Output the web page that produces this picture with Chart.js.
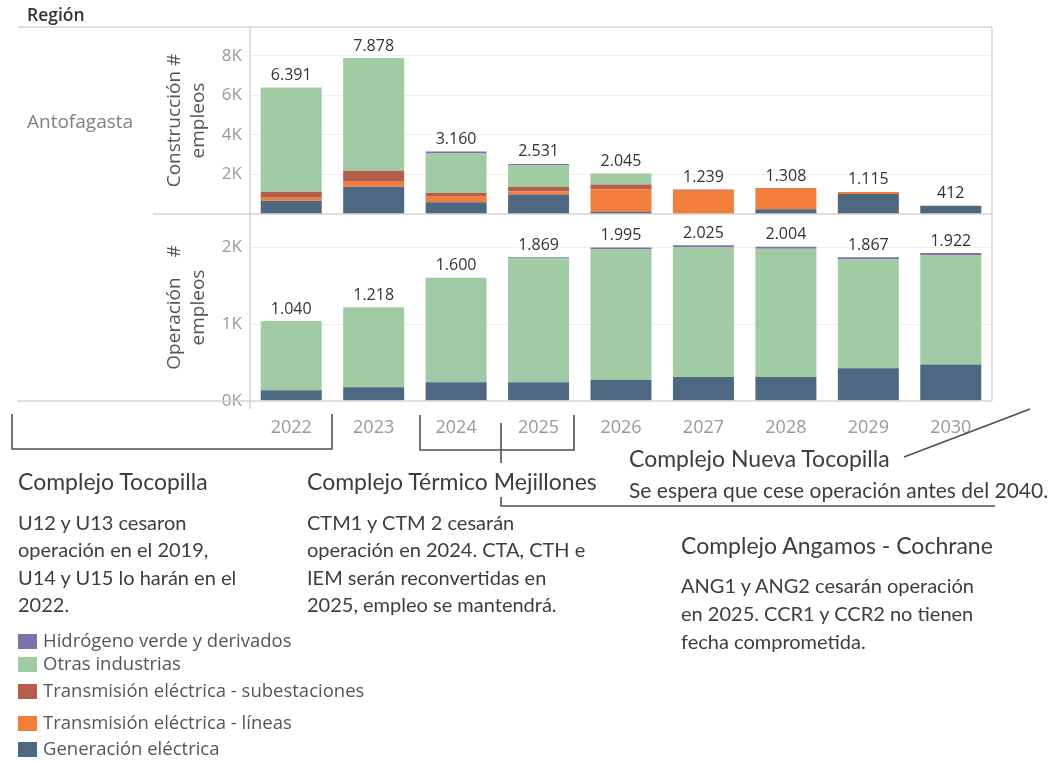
<!DOCTYPE html>
<html>
<head>
<meta charset="utf-8">
<script src="https://cdn.jsdelivr.net/npm/chart.js@4.4.1/dist/chart.umd.min.js"></script>
<style>
  body { margin: 0; background: #fff; width: 1059px; height: 763px; position: relative; overflow: hidden; font-family: "Open Sans", sans-serif; }
  #c { position: absolute; left: 0; top: 0; }
  #lines { position: absolute; left: 0; top: 0; }
  .t { position: absolute; white-space: nowrap; color: #3d3d3d; font-family: Lato, sans-serif; }
  .head { font-size: 23px; line-height: 28px; }
  .body { font-size: 20px; line-height: 27.3px; }
  #region { position: absolute; left: 27px; top: 2px; font-size: 17.5px; font-weight: 600; color: #333; }
  #antof { position: absolute; left: 27px; top: 108px; font-size: 19px; color: #808080; }
  .leg { position: absolute; left: 18px; font-family: "Open Sans", sans-serif; font-size: 18.5px; color: #555; white-space: nowrap; line-height: 24px; }
  .leg span { display: inline-block; width: 19px; height: 15px; vertical-align: -2px; margin-right: 6px; }
</style>
</head>
<body>
<canvas id="c" width="1059" height="445"></canvas>
<div id="region">Región</div>
<div id="antof">Antofagasta</div>

<svg id="lines" width="1059" height="763">
  <g fill="none" stroke="#505050" stroke-width="1.6">
    <path d="M12 414 V449 H332 V414"/>
    <path d="M420 415 V450 H574 V415"/>
    <path d="M501 423 V463"/>
    <path d="M501 497 V506 H995"/>
    <path d="M904 457 L1030 409"/>
  </g>
</svg>

<div class="t head" style="left:18px;top:467px">Complejo Tocopilla</div>
<div class="t body" style="left:18px;top:509px">U12 y U13 cesaron<br>operación en el 2019,<br>U14 y U15 lo harán en el<br>2022.</div>

<div class="t head" style="left:307px;top:467px">Complejo Térmico Mejillones</div>
<div class="t body" style="left:307px;top:509px">CTM1 y CTM 2 cesarán<br>operación en 2024. CTA, CTH e<br>IEM serán reconvertidas en<br>2025, empleo se mantendrá.</div>

<div class="t head" style="left:629px;top:444px">Complejo Nueva Tocopilla</div>
<div class="t body" style="left:629px;top:476px;font-size:21px">Se espera que cese operación antes del 2040.</div>

<div class="t head" style="left:681px;top:531px">Complejo Angamos - Cochrane</div>
<div class="t body" style="left:681px;top:571px;line-height:28px">ANG1 y ANG2 cesarán operación<br>en 2025. CCR1 y CCR2 no tienen<br>fecha comprometida.</div>

<div id="legend"></div>

<script>
// años
const years = ['2022', '2023', '2024', '2025', '2026', '2027', '2028', '2029', '2030'];

// Construcción (# empleos)
const genCon = [670, 1380, 590, 990, 115, 0, 237, 1015, 412];
const lineasCon = [150, 250, 280, 150, 1130, 1180, 1041, 100, 0];
const subCon = [310, 555, 185, 230, 250, 59, 30, 0, 0];
const otrasCon = [5261, 5693, 2005, 1111, 550, 0, 0, 0, 0];
const h2Con = [0, 0, 100, 50, 0, 0, 0, 0, 0];

// Operación (# empleos)
const genOp = [140, 180, 245, 245, 275, 313, 313, 427, 474];
const otrasOp = [900, 1038, 1355, 1614, 1695, 1687, 1666, 1415, 1423];
const h2Op = [0, 0, 0, 10, 25, 25, 25, 25, 25];

const conTicks = [2000, 4000, 6000, 8000];
const opTicks = [0, 1000, 2000];

const colors = {
  h2: '#7f72ab',
  otras: '#a0cba4',
  sub: '#b55e4b',
  lineas: '#f37e3b',
  gen: '#4e6881'
};
const legendItems = [
  ['Hidrógeno verde y derivados', colors.h2, 633],
  ['Otras industrias', colors.otras, 656],
  ['Transmisión eléctrica - subestaciones', colors.sub, 683],
  ['Transmisión eléctrica - líneas', colors.lineas, 715],
  ['Generación eléctrica', colors.gen, 741]
];

const legend = document.getElementById('legend');
legendItems.forEach(([label, color, top]) => {
  const d = document.createElement('div');
  d.className = 'leg';
  d.style.top = (top - 5) + 'px';
  d.innerHTML = '<span style="background:' + color + '"></span>' + label;
  legend.appendChild(d);
});

const fmt = v => String(v).replace(/\B(?=(\d{3})+(?!\d))/g, '.');

// totales sobre cada barra
const totalsPlugin = {
  id: 'totals',
  afterDatasetsDraw(chart) {
    const { ctx } = chart;
    ctx.save();
    ctx.font = '16px "Open Sans"';
    ctx.fillStyle = '#333';
    ctx.textAlign = 'center';
    ctx.textBaseline = 'bottom';
    ['yCon', 'yOp'].forEach(axis => {
      const scale = chart.scales[axis];
      const sets = chart.data.datasets.map((ds, i) => [ds, i]).filter(([ds]) => ds.yAxisID === axis);
      years.forEach((y, j) => {
        const total = sets.reduce((s, [ds]) => s + ds.data[j], 0);
        const x = chart.getDatasetMeta(sets[0][1]).data[j].x;
        ctx.fillText(fmt(total), x, scale.getPixelForValue(total) - 4);
      });
    });
    ctx.restore();
  }
};

// marco de la tabla
const framePlugin = {
  id: 'frame',
  afterDraw(chart) {
    const { ctx, chartArea: a, scales } = chart;
    const sep = scales.yCon.bottom;
    ctx.save();
    ctx.strokeStyle = '#d4d4d4';
    ctx.lineWidth = 1.5;
    const seg = (x1, y1, x2, y2) => { ctx.beginPath(); ctx.moveTo(x1, y1); ctx.lineTo(x2, y2); ctx.stroke(); };
    seg(18, a.top, a.right, a.top);
    seg(153, sep, a.right, sep);
    seg(17, a.bottom, a.right, a.bottom);
    seg(a.left, a.top, a.left, a.bottom + 8);
    seg(a.right, a.top, a.right, a.bottom);
    ctx.restore();
  }
};

const tickFont = { family: 'Open Sans', size: 17 };
const titleFont = { family: 'Open Sans', size: 19, lineHeight: 1.3 };

const mk = (label, data, color, axis) => ({
  label, data, backgroundColor: color, yAxisID: axis,
  barPercentage: 0.74, categoryPercentage: 1, borderWidth: 0
});

new Chart(document.getElementById('c'), {
  type: 'bar',
  data: {
    labels: years,
    datasets: [
      mk('Generación eléctrica', genCon, colors.gen, 'yCon'),
      mk('Transmisión eléctrica - líneas', lineasCon, colors.lineas, 'yCon'),
      mk('Transmisión eléctrica - subestaciones', subCon, colors.sub, 'yCon'),
      mk('Otras industrias', otrasCon, colors.otras, 'yCon'),
      mk('Hidrógeno verde y derivados', h2Con, colors.h2, 'yCon'),
      mk('Generación eléctrica', genOp, colors.gen, 'yOp'),
      mk('Otras industrias', otrasOp, colors.otras, 'yOp'),
      mk('Hidrógeno verde y derivados', h2Op, colors.h2, 'yOp')
    ]
  },
  options: {
    responsive: false,
    animation: false,
    devicePixelRatio: 1,
    layout: { padding: { left: 150, top: 27, right: 67, bottom: 0 } },
    plugins: {
      legend: { display: false },
      tooltip: { enabled: false }
    },
    scales: {
      x: {
        stacked: true,
        grid: { display: false },
        border: { display: false },
        ticks: { color: '#999', font: { family: 'Open Sans', size: 18 }, padding: 8 },
        afterFit: s => { s.height = 44; }
      },
      yCon: {
        type: 'linear',
        position: 'left',
        stack: 'panel',
        stackWeight: 1,
        weight: 2,
        stacked: true,
        min: 0,
        max: 9450,
        afterBuildTicks: s => { s.ticks = conTicks.map(v => ({ value: v })); },
        afterFit: s => { s.width = 100; },
        ticks: { color: '#999', font: tickFont, padding: 8, callback: v => v / 1000 + 'K' },
        grid: { color: '#efefef', drawTicks: false },
        border: { display: false },
        title: { display: true, text: ['Construcción #', 'empleos'], color: '#555', font: titleFont, padding: { top: 12, bottom: 0 } }
      },
      yOp: {
        type: 'linear',
        position: 'left',
        stack: 'panel',
        stackWeight: 1,
        weight: 1,
        stacked: true,
        min: 0,
        max: 2430,
        afterBuildTicks: s => { s.ticks = opTicks.map(v => ({ value: v })); },
        afterFit: s => { s.width = 100; },
        ticks: { color: '#999', font: tickFont, padding: 8, callback: v => v / 1000 + 'K' },
        grid: { color: ctx => ctx.tick && ctx.tick.value === 0 ? 'rgba(0,0,0,0)' : '#efefef', drawTicks: false },
        border: { display: false },
        title: { display: true, text: ['Operación    #', 'empleos'], color: '#555', font: titleFont, padding: { top: 12, bottom: 0 } }
      }
    }
  },
  plugins: [totalsPlugin, framePlugin]
});
</script>
</body>
</html>
